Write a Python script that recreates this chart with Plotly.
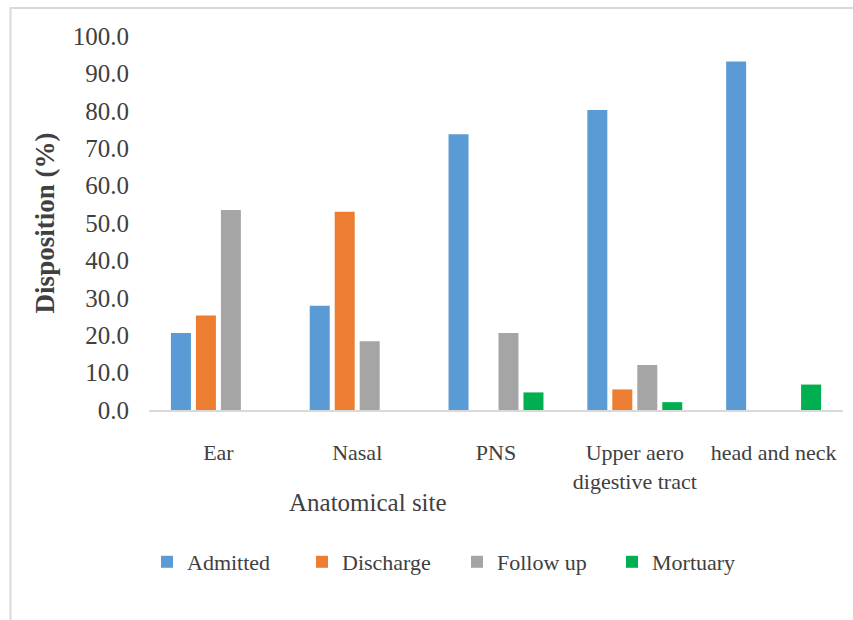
import plotly.graph_objects as go

# Disposition of patients by anatomical site (%)
sites = ["Ear", "Nasal", "PNS", "Upper aero<br>digestive tract", "head and neck"]
admitted = [20.6, 27.9, 73.7, 80.2, 93.2]
discharge = [25.3, 53.0, None, 5.5, None]
follow_up = [53.5, 18.4, 20.6, 12.0, None]
mortuary = [None, None, 4.7, 2.1, 6.8]

series = [
    ("Admitted", admitted, "#5B9BD5"),
    ("Discharge", discharge, "#ED7D31"),
    ("Follow up", follow_up, "#A5A5A5"),
    ("Mortuary", mortuary, "#00B050"),
]

y_ticks = [i * 10 for i in range(11)]
text_color = "#404040"
serif = "Liberation Serif, Times New Roman, serif"

fig = go.Figure()
for name, values, color in series:
    fig.add_trace(go.Bar(x=sites, y=values, name=name, marker_color=color,
                         marker_line_width=0))

W, H = 853, 620
ml, mr, mt, mb = 149, 10, 36, 210
pw, ph = W - ml - mr, H - mt - mb

def px_x(px):
    return (px - ml) / pw

def px_y(py):
    return (H - mb - py) / ph

fig.update_layout(
    width=W, height=H,
    margin=dict(l=ml, r=mr, t=mt, b=mb, autoexpand=False),
    paper_bgcolor="white", plot_bgcolor="white",
    barmode="group", bargap=0.28, bargroupgap=0.2,
    font=dict(family=serif, color=text_color),
    showlegend=True,
    legend=dict(orientation="h", x=px_x(147), xanchor="left",
                y=px_y(562), yanchor="middle",
                font=dict(size=22, family=serif, color=text_color),
                entrywidth=110, entrywidthmode="pixels",
                itemwidth=30, traceorder="normal"),
    xaxis=dict(
        showline=True, linecolor="#d9d9d9", linewidth=1.5,
        showgrid=False, ticks="", ticklabelstandoff=22,
        tickfont=dict(size=22, family=serif, color=text_color),
        automargin=False,
    ),
    yaxis=dict(
        range=[0, 100], tickvals=y_ticks, tickformat=".1f",
        showgrid=False, zeroline=False, showline=False, ticks="",
        ticklabelstandoff=19,
        tickfont=dict(size=25, family=serif, color=text_color),
        title=dict(text="<b>Disposition (%)</b>", standoff=10,
                   font=dict(size=27, family=serif, color=text_color)),
        automargin=False,
    ),
    annotations=[dict(text="Anatomical site", xref="paper", yref="paper",
                      x=px_x(368), y=px_y(503), xanchor="center", yanchor="middle",
                      showarrow=False,
                      font=dict(size=25, family=serif, color=text_color))],
    shapes=[dict(type="rect", xref="paper", yref="paper",
                 x0=px_x(10.5), x1=px_x(870), y0=px_y(640), y1=px_y(8),
                 line=dict(color="#d9d9d9", width=2), fillcolor="rgba(0,0,0,0)",
                 layer="below")],
)

fig.write_html("out.html")
